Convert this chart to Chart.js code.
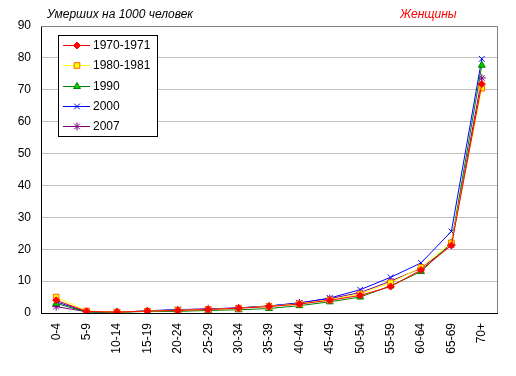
<!DOCTYPE html>
<html><head><meta charset="utf-8">
<script src="https://cdn.jsdelivr.net/npm/chart.js@4/dist/chart.umd.min.js"></script>
<style>html,body{margin:0;padding:0;background:#fff}#w{width:516px;height:376px}</style>
</head><body><div id="w"><canvas id="c" width="516" height="376"></canvas></div>
<script>
const categories = ["0-4","5-9","10-14","15-19","20-24","25-29","30-34","35-39","40-44","45-49","50-54","55-59","60-64","65-69","70+"];
const yTicks = [0,10,20,30,40,50,60,70,80,90];
const seriesNames = ["1970-1971","1980-1981","1990","2000","2007"];
const s1970 = [4.0,0.5,0.3,0.6,0.8,1.1,1.5,2.0,2.8,4.0,5.5,8.3,13.5,21.2,71.8];
const s1980 = [5.0,0.6,0.3,0.6,0.9,1.1,1.5,2.1,2.9,4.1,6.0,9.5,14.3,22.0,70.5];
const s1990 = [3.0,0.3,0.2,0.5,0.5,0.8,1.0,1.4,2.3,3.5,5.0,8.5,13.0,22.0,77.7];
const s2000 = [3.5,0.4,0.2,0.7,1.1,1.2,1.6,2.2,3.1,4.7,7.3,11.2,15.7,25.6,79.7];
const s2007 = [2.0,0.4,0.3,0.6,1.0,1.3,1.6,2.2,3.2,4.5,6.4,10.0,14.0,21.3,73.7];
const titleLeft = "Умерших на 1000 человек";
const titleRight = "Женщины";

const FONT = "Arial, 'Liberation Sans', sans-serif";
const styles = [
  {line:"#ff0000", bg:"#ff0000", bd:"#ff0000", ps:"rectRot", r:3.5},
  {line:"#ffff00", bg:"#ffff00", bd:"#ff6600", ps:"rect", r:4},
  {line:"#008000", bg:"#00cc00", bd:"#008000", ps:"triangle", r:4},
  {line:"#0000ff", bg:"#0000ff", bd:"#0000ff", ps:"crossRot", r:4},
  {line:"#800080", bg:"#800080", bd:"#800080", ps:"star", r:4}
];
const allData = [s1970,s1980,s1990,s2000,s2007];

const datasets = allData.map((d,i)=>({
  label: seriesNames[i], data: d,
  borderColor: styles[i].line, borderWidth: 1,
  pointStyle: styles[i].ps, pointRadius: styles[i].r,
  pointBackgroundColor: styles[i].bg, pointBorderColor: styles[i].bd, pointBorderWidth: 1,
  tension: 0, fill: false
}));

const deco = {
  id: "deco",
  afterDraw(chart){
    const ctx = chart.ctx, a = chart.chartArea;
    ctx.save();
    ctx.strokeStyle = "#808080"; ctx.lineWidth = 1;
    ctx.beginPath();
    ctx.moveTo(a.left, a.top+0.5); ctx.lineTo(a.right+0.5, a.top+0.5); ctx.lineTo(a.right+0.5, a.bottom);
    ctx.stroke();
    ctx.font = "italic 12px " + FONT;
    ctx.textBaseline = "alphabetic"; ctx.textAlign = "left";
    ctx.fillStyle = "#000"; ctx.fillText(titleLeft, 47, 18);
    ctx.fillStyle = "#ff0000"; ctx.fillText(titleRight, 400, 18);
    const lx = 58, ly = 35, lw = 99, lh = 101;
    ctx.fillStyle = "#fff"; ctx.fillRect(lx, ly, lw, lh);
    ctx.strokeStyle = "#000"; ctx.lineWidth = 1; ctx.strokeRect(lx+0.5, ly+0.5, lw, lh);
    ctx.font = "12px " + FONT; ctx.textBaseline = "middle";
    chart.data.datasets.forEach((ds,i)=>{
      const y = Math.round(ly + 10 + i*20.25) + 0.5;
      ctx.strokeStyle = ds.borderColor; ctx.lineWidth = 1;
      ctx.beginPath(); ctx.moveTo(lx+5, y); ctx.lineTo(lx+32, y); ctx.stroke();
      ctx.fillStyle = ds.pointBackgroundColor; ctx.strokeStyle = ds.pointBorderColor; ctx.lineWidth = 1;
      Chart.helpers.drawPoint(ctx, {pointStyle: ds.pointStyle, radius: ds.pointRadius, borderWidth:1, rotation:0}, lx+19, y);
      ctx.fillStyle = "#000";
      ctx.fillText(ds.label, lx+35, y+0.5);
    });
    ctx.restore();
  }
};

new Chart(document.getElementById("c"), {
  type: "line",
  data: { labels: categories, datasets },
  options: {
    responsive: false, animation: false, devicePixelRatio: 1,
    layout: { padding: { top: 26, right: 19, left: 0, bottom: 0 } },
    plugins: { legend: { display: false }, title: { display: false }, tooltip: { enabled: false } },
    scales: {
      x: {
        offset: true,
        grid: { display: false, drawTicks: false },
        border: { color: "#000", width: 1 },
        ticks: { color: "#000", font: { family: FONT, size: 12 }, minRotation: 90, maxRotation: 90, padding: 10, autoSkip: false },
        afterFit(s){ s.height = 63; }
      },
      y: {
        min: 0, max: 90,
        grid: { color: "#c0c0c0", drawTicks: false },
        border: { color: "#000", width: 1 },
        afterBuildTicks(s){ s.ticks = yTicks.map(v=>({value:v})); },
        ticks: { color: "#000", font: { family: FONT, size: 12 }, padding: 10 },
        afterFit(s){ s.width = 41; }
      }
    }
  },
  plugins: [deco]
});
</script></body></html>
